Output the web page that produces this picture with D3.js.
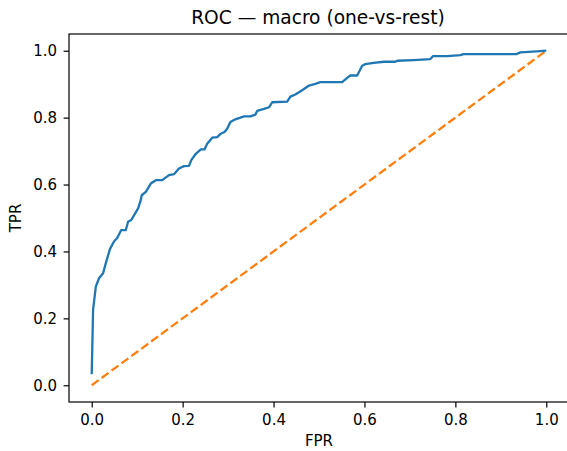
<!DOCTYPE html>
<html>
<head>
<meta charset="utf-8">
<script src="https://cdn.jsdelivr.net/npm/d3@7"></script>
<style>
  body { margin: 0; background: #fff; }
  text { font-family: "DejaVu Sans", sans-serif; fill: #000; }
</style>
</head>
<body>
<div id="chart"></div>
<script>
// ROC curve points
const fpr = [0, 0.003, 0.009, 0.016, 0.025, 0.031, 0.040, 0.049, 0.056, 0.065, 0.075, 0.080, 0.087,
  0.102, 0.108, 0.110, 0.119, 0.130, 0.141, 0.155, 0.170, 0.181, 0.192, 0.203, 0.214, 0.219,
  0.229, 0.240, 0.248, 0.254, 0.265, 0.276, 0.284, 0.292, 0.298, 0.305, 0.316, 0.327, 0.335,
  0.349, 0.360, 0.364, 0.379, 0.390, 0.397, 0.430, 0.437, 0.448, 0.463, 0.478, 0.492, 0.503,
  0.551, 0.562, 0.569, 0.584, 0.595, 0.602, 0.620, 0.643, 0.668, 0.672, 0.708, 0.745, 0.751,
  0.782, 0.811, 0.818, 0.877, 0.935, 0.943, 0.979, 1.0];
const tpr = [0.033, 0.226, 0.295, 0.32, 0.335, 0.365, 0.407, 0.43, 0.44, 0.464, 0.464, 0.489, 0.494,
  0.529, 0.554, 0.568, 0.578, 0.603, 0.613, 0.613, 0.628, 0.631, 0.648, 0.655, 0.656, 0.673,
  0.692, 0.705, 0.705, 0.722, 0.74, 0.742, 0.752, 0.757, 0.767, 0.787, 0.795, 0.80, 0.804,
  0.804, 0.809, 0.82, 0.826, 0.831, 0.846, 0.848, 0.863, 0.869, 0.882, 0.896, 0.901, 0.906,
  0.906, 0.919, 0.926, 0.926, 0.955, 0.96, 0.964, 0.967, 0.967, 0.97, 0.972, 0.975, 0.984,
  0.984, 0.987, 0.99, 0.99, 0.99, 0.995, 0.998, 1.0];
const chanceX = [0, 1];
const chanceY = [0, 1];
const ticks = [0, 0.2, 0.4, 0.6, 0.8, 1.0];

const width = 567, height = 451;
const plotLeft = 69, plotRight = 569, plotTop = 34, plotBottom = 402;

const svg = d3.select("#chart").append("svg")
  .attr("width", width)
  .attr("height", height);

const x = d3.scaleLinear().domain([-0.05, 1.05]).range([plotLeft, plotRight]);
const y = d3.scaleLinear().domain([-0.05, 1.05]).range([plotBottom, plotTop]);

const line = d3.line().x(d => x(d[0])).y(d => y(d[1]));

// chance line
svg.append("path")
  .datum(d3.zip(chanceX, chanceY))
  .attr("d", line)
  .attr("fill", "none")
  .attr("stroke", "#ff7f0e")
  .attr("stroke-width", 2.3)
  .attr("stroke-dasharray", "8.6,3.7");

// roc curve
svg.append("path")
  .datum(d3.zip(fpr, tpr))
  .attr("d", line)
  .attr("fill", "none")
  .attr("stroke", "#1f77b4")
  .attr("stroke-width", 2.3)
  .attr("stroke-linejoin", "round");

// axes
const xAxis = svg.append("g")
  .attr("transform", `translate(0,${plotBottom})`)
  .call(d3.axisBottom(x).tickValues(ticks).tickFormat(d3.format(".1f")).tickSizeOuter(0).tickSize(5.4).tickPadding(7));
const yAxis = svg.append("g")
  .attr("transform", `translate(${plotLeft},0)`)
  .call(d3.axisLeft(y).tickValues(ticks).tickFormat(d3.format(".1f")).tickSizeOuter(0).tickSize(5.4).tickPadding(6.5));

[xAxis, yAxis].forEach(g => {
  g.select(".domain").remove();
  g.selectAll("line").attr("stroke", "#000").attr("stroke-width", 1.2);
  g.selectAll("text").attr("font-size", 15).attr("font-family", "DejaVu Sans").attr("fill", "#000");
});

// frame
svg.append("rect")
  .attr("x", plotLeft)
  .attr("y", plotTop)
  .attr("width", plotRight - plotLeft)
  .attr("height", plotBottom - plotTop)
  .attr("fill", "none")
  .attr("stroke", "#000")
  .attr("stroke-width", 1.2);

svg.append("text")
  .attr("x", 318)
  .attr("y", 24)
  .attr("text-anchor", "middle")
  .attr("font-size", 18.6)
  .text("ROC — macro (one-vs-rest)");

svg.append("text")
  .attr("x", 319)
  .attr("y", 446)
  .attr("text-anchor", "middle")
  .attr("font-size", 15)
  .text("FPR");

svg.append("text")
  .attr("transform", `translate(21,${(plotTop + plotBottom) / 2}) rotate(-90)`)
  .attr("text-anchor", "middle")
  .attr("font-size", 15)
  .text("TPR");
</script>
</body>
</html>
